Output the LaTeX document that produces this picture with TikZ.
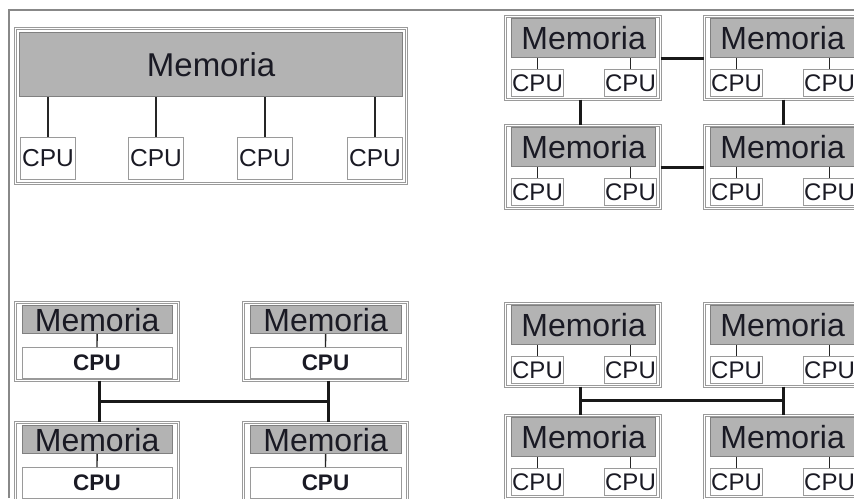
\documentclass[tikz,border=0pt]{standalone}
\usepackage{fontspec}
\setmainfont{Liberation Sans}
\usetikzlibrary{calc}
\definecolor{memfill}{HTML}{B3B3B3}
\definecolor{memborder}{HTML}{808080}
\definecolor{boxgray}{HTML}{9A9A9A}
\definecolor{framegray}{HTML}{888888}
\definecolor{txt}{HTML}{1A1A24}
\newcommand\mymod[3]{%
  \node[modbox, minimum width=155, minimum height=83] (#1) at (#2+1,#3+1) {};
  \node[mem, minimum width=144, minimum height=39, font=\fontsize{32}{36}\selectfont] (#1m) at (#2+7,#3+3) {Memoria};
  \node[cpu, minimum width=52, minimum height=27, font=\fontsize{24}{28}\selectfont] (#1a) at (#2+7,#3+54) {CPU};
  \node[cpu, minimum width=52, minimum height=27, font=\fontsize{24}{28}\selectfont] (#1b) at (#2+100,#3+54) {CPU};
  \draw[conn] (#1a.north) -- (#1a.north |- #1m.south);
  \draw[conn] (#1b.north) -- (#1b.north |- #1m.south);
}
\newcommand\mycmod[3]{%
  \node[modbox, minimum width=#3, minimum height=78] (#1) at (#2) {};
  \node[mem, minimum width={#3-13}, minimum height=28, font=\fontsize{32}{36}\selectfont] at ($(#1.north west)+(6.5,3)$) (#1m) {Memoria};
  \node[cpu, minimum width={#3-13}, minimum height=31, font=\fontsize{22.5}{26}\selectfont\bfseries] at ($(#1.north west)+(6.5,45)$) (#1c) {CPU};
  \draw[conn] (#1c.north) -- (#1m.south);
}
\begin{document}
\begin{tikzpicture}[x=1pt,y=-1pt,
  modbox/.style={draw=boxgray, line width=0.7pt, double=white, double distance=1.3pt, inner sep=0pt, anchor=north west},
  mem/.style={draw=memborder, fill=memfill, line width=1.2pt, inner sep=0pt, anchor=north west, text=txt},
  cpu/.style={draw=boxgray, fill=white, line width=1pt, inner sep=0pt, anchor=north west, text=txt},
  conn/.style={draw=black!85, line width=1.4pt},
  bus/.style={draw=black!90, line width=3.2pt},
  frame/.style={draw=framegray, line width=1.5pt}]
\useasboundingbox (0,0) rectangle (854,498);
\clip (0,0) rectangle (854,498);
\fill[white] (0,0) rectangle (854,498);
\draw[frame] (9,498) -- (9,10) -- (854,10);

% Group A: shared memory
\node[modbox, minimum width=391, minimum height=155] (A) at (15,28) {};
\node[mem, minimum width=383, minimum height=64, font=\fontsize{33}{38}\selectfont] (Am) at (19,32) {Memoria};
\foreach \i/\x in {1/20,2/128,3/237,4/347}{
  \node[cpu, minimum width=55, minimum height=42, font=\fontsize{24.5}{28}\selectfont] (Ac\i) at (\x,137) {CPU};
  \draw[conn] (Ac\i.north) -- (Ac\i.north |- Am.south);
}

% Group B: mesh
\mymod{B1}{504}{15}
\mymod{B2}{703}{15}
\mymod{B3}{504}{124}
\mymod{B4}{703}{124}
\draw[bus] (B1.east |- B1m.south) -- (B2.west |- B1m.south);
\draw[bus] (B3.east |- B3m.south) -- (B4.west |- B3m.south);
\draw[bus] ([xshift=-2]B1.south) -- ([xshift=-2]B3.north);
\draw[bus] ([xshift=2]B2.south) -- ([xshift=2]B4.north);

% Group C: single CPU nodes on a bus
\mycmod{C1}{15,302}{163}
\mycmod{C2}{243,302}{164}
\mycmod{C3}{15,422}{163}
\mycmod{C4}{243,422}{164}
\draw[bus] ([xshift=2.5]C1.south) -- ([xshift=2.5]C3.north);
\draw[bus] ([xshift=3.5]C2.south) -- ([xshift=3.5]C4.north);
\coordinate (cL) at ($([xshift=2.5]C1.south)!0.5!([xshift=2.5]C3.north)$);
\coordinate (cR) at ($([xshift=3.5]C2.south)!0.5!([xshift=3.5]C4.north)$);
\draw[bus] (cL) -- (cR);

% Group D: bus of SMP nodes
\mymod{D1}{504}{302}
\mymod{D2}{703}{302}
\mymod{D3}{504}{414}
\mymod{D4}{703}{414}
\draw[bus] ([xshift=-2]D1.south) -- ([xshift=-2]D3.north);
\draw[bus] ([xshift=2]D2.south) -- ([xshift=2]D4.north);
\coordinate (dL) at ($([xshift=-2]D1.south)!0.5!([xshift=-2]D3.north)$);
\coordinate (dR) at ($([xshift=2]D2.south)!0.5!([xshift=2]D4.north)$);
\draw[bus] (dL) -- (dR);
\end{tikzpicture}
\end{document}
